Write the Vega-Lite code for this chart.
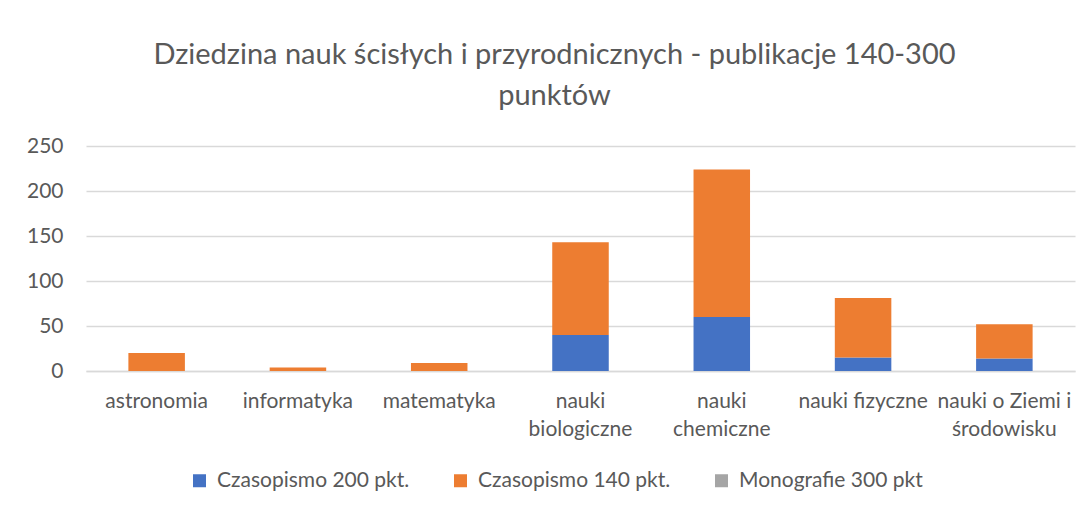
{
  "$schema": "https://vega.github.io/schema/vega-lite/v6.json",
  "width": 989,
  "height": 225,
  "autosize": {"type": "none"},
  "padding": {"left": 86, "top": 146, "right": 12, "bottom": 138},
  "background": "white",
  "title": {
    "text": ["Dziedzina nauk ścisłych i przyrodnicznych - publikacje 140-300", "punktów"],
    "font": "Lato",
    "fontSize": 29,
    "fontWeight": "normal",
    "color": "#595959",
    "lineHeight": 41,
    "anchor": "middle",
    "dx": -26,
    "offset": 24
  },
  "data": {
    "values": [
      {"dziedzina": "astronomia", "seria": "Czasopismo 200 pkt.", "liczba": 0},
      {"dziedzina": "astronomia", "seria": "Czasopismo 140 pkt.", "liczba": 20},
      {"dziedzina": "astronomia", "seria": "Monografie 300 pkt", "liczba": 0},
      {"dziedzina": "informatyka", "seria": "Czasopismo 200 pkt.", "liczba": 0},
      {"dziedzina": "informatyka", "seria": "Czasopismo 140 pkt.", "liczba": 4},
      {"dziedzina": "informatyka", "seria": "Monografie 300 pkt", "liczba": 0},
      {"dziedzina": "matematyka", "seria": "Czasopismo 200 pkt.", "liczba": 0},
      {"dziedzina": "matematyka", "seria": "Czasopismo 140 pkt.", "liczba": 9},
      {"dziedzina": "matematyka", "seria": "Monografie 300 pkt", "liczba": 0},
      {"dziedzina": "nauki biologiczne", "seria": "Czasopismo 200 pkt.", "liczba": 40},
      {"dziedzina": "nauki biologiczne", "seria": "Czasopismo 140 pkt.", "liczba": 103},
      {"dziedzina": "nauki biologiczne", "seria": "Monografie 300 pkt", "liczba": 0},
      {"dziedzina": "nauki chemiczne", "seria": "Czasopismo 200 pkt.", "liczba": 60},
      {"dziedzina": "nauki chemiczne", "seria": "Czasopismo 140 pkt.", "liczba": 164},
      {"dziedzina": "nauki chemiczne", "seria": "Monografie 300 pkt", "liczba": 0},
      {"dziedzina": "nauki fizyczne", "seria": "Czasopismo 200 pkt.", "liczba": 15},
      {"dziedzina": "nauki fizyczne", "seria": "Czasopismo 140 pkt.", "liczba": 66},
      {"dziedzina": "nauki fizyczne", "seria": "Monografie 300 pkt", "liczba": 0},
      {"dziedzina": "nauki o Ziemi i środowisku", "seria": "Czasopismo 200 pkt.", "liczba": 14},
      {"dziedzina": "nauki o Ziemi i środowisku", "seria": "Czasopismo 140 pkt.", "liczba": 38},
      {"dziedzina": "nauki o Ziemi i środowisku", "seria": "Monografie 300 pkt", "liczba": 0}
    ]
  },
  "mark": {"type": "bar"},
  "encoding": {
    "x": {
      "field": "dziedzina",
      "type": "nominal",
      "sort": null,
      "scale": {"paddingInner": 0.6, "paddingOuter": 0.3},
      "axis": {
        "title": null,
        "labelAngle": 0,
        "labelFont": "Lato",
        "labelFontSize": 21,
        "labelColor": "#595959",
        "labelPadding": 19,
        "labelLineHeight": 28,
        "labelLimit": 300,
        "ticks": false,
        "domainColor": "#D9D9D9",
        "domainWidth": 1.3,
        "labelExpr": "datum.label == 'nauki biologiczne' ? ['nauki', 'biologiczne'] : datum.label == 'nauki chemiczne' ? ['nauki', 'chemiczne'] : datum.label == 'nauki o Ziemi i środowisku' ? ['nauki o Ziemi i', 'środowisku'] : datum.label"
      }
    },
    "y": {
      "field": "liczba",
      "type": "quantitative",
      "stack": "zero",
      "scale": {"domain": [0, 250]},
      "axis": {
        "title": null,
        "values": [0, 50, 100, 150, 200, 250],
        "labelFont": "Lato",
        "labelFontSize": 21,
        "labelColor": "#595959",
        "labelPadding": 23,
        "ticks": false,
        "domain": false,
        "gridColor": "#D9D9D9",
        "gridWidth": 1.3
      }
    },
    "color": {
      "field": "seria",
      "type": "nominal",
      "scale": {
        "domain": ["Czasopismo 200 pkt.", "Czasopismo 140 pkt.", "Monografie 300 pkt"],
        "range": ["#4472C4", "#ED7D31", "#A5A5A5"]
      },
      "legend": {
        "title": null,
        "orient": "none",
        "direction": "horizontal",
        "legendX": 103,
        "legendY": 324,
        "symbolType": "square",
        "symbolSize": 169,
        "symbolStrokeWidth": 0,
        "symbolOpacity": 1,
        "labelFont": "Lato",
        "labelFontSize": 21,
        "labelColor": "#595959",
        "labelOffset": 7,
        "labelLimit": 400,
        "columnPadding": 40
      }
    }
  },
  "config": {
    "view": {"stroke": null}
  }
}
